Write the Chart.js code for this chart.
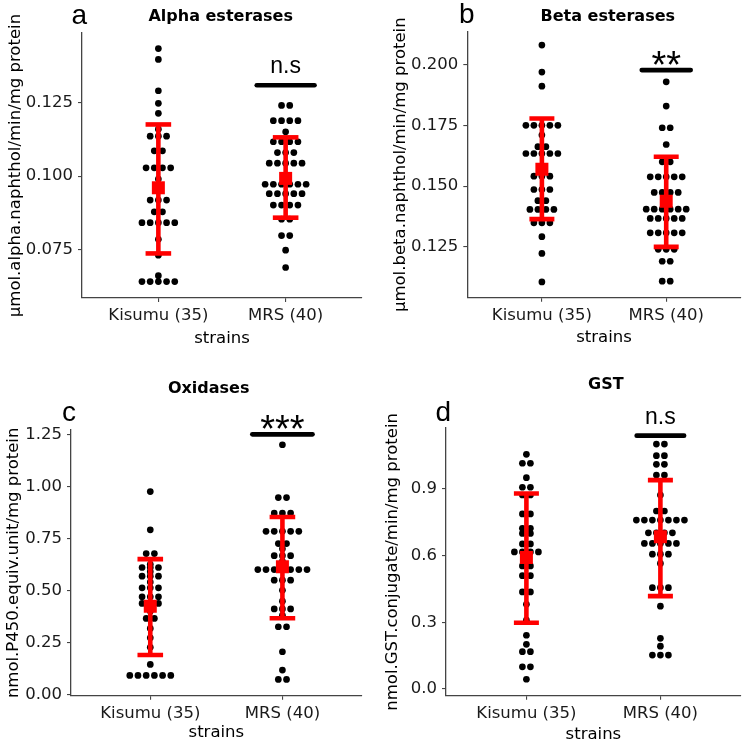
<!DOCTYPE html>
<html>
<head>
<meta charset="utf-8">
<script src="https://cdn.jsdelivr.net/npm/chart.js@4.4.1/dist/chart.umd.min.js"></script>
<style>
  html, body { margin: 0; padding: 0; background: #fff; }
  #wrap { position: relative; width: 750px; height: 746px; }
  #wrap canvas { position: absolute; }
</style>
</head>
<body>
<div id="wrap">
  <canvas id="panelA" width="375" height="373" style="left:0;top:0"></canvas>
  <canvas id="panelB" width="375" height="373" style="left:375px;top:0"></canvas>
  <canvas id="panelC" width="375" height="373" style="left:0;top:373px"></canvas>
  <canvas id="panelD" width="375" height="373" style="left:375px;top:373px"></canvas>
</div>
<script>
/* ── data ───────────────────────────────────────────────── */
const strains = ['Kisumu (35)', 'MRS (40)'];

// a - Alpha esterases (one level per dot row, count = dots in that row)
const alphaKisumuLevels = [0.1435, 0.1398, 0.1291, 0.1248, 0.1214, 0.1160, 0.1136, 0.1086, 0.1028, 0.0990, 0.0960, 0.0918, 0.0878, 0.0841, 0.0784, 0.0730, 0.0660, 0.0640];
const alphaKisumuCounts = [1, 1, 1, 1, 1, 1, 3, 2, 4, 1, 1, 3, 2, 5, 1, 1, 1, 5];
const alphaMrsLevels = [0.1241, 0.1189, 0.1151, 0.1117, 0.1080, 0.1044, 0.0972, 0.0940, 0.0901, 0.0853, 0.0797, 0.0747, 0.0688];
const alphaMrsCounts = [2, 4, 1, 4, 3, 5, 6, 5, 4, 2, 2, 1, 1];
const alphaMean = [0.0960, 0.0992];
const alphaLow = [0.0736, 0.0858];
const alphaHigh = [0.1176, 0.1132];
const alphaTicks = [0.075, 0.100, 0.125];
const alphaTickLabels = ['0.075', '0.100', '0.125'];

// b - Beta esterases
const betaKisumuLevels = [0.2080, 0.1969, 0.1911, 0.1750, 0.1710, 0.1662, 0.1634, 0.1566, 0.1541, 0.1486, 0.1440, 0.1404, 0.1349, 0.1292, 0.1223, 0.1106];
const betaKisumuCounts = [1, 1, 1, 5, 1, 2, 5, 1, 3, 3, 2, 4, 3, 1, 1, 1];
const betaMrsLevels = [0.1929, 0.1829, 0.1740, 0.1671, 0.1600, 0.1538, 0.1474, 0.1440, 0.1405, 0.1367, 0.1308, 0.1240, 0.1191, 0.1109];
const betaMrsCounts = [1, 1, 2, 1, 2, 5, 4, 1, 6, 5, 5, 3, 2, 2];
const betaMean = [0.1569, 0.1438];
const betaLow = [0.1364, 0.1250];
const betaHigh = [0.1778, 0.1621];
const betaTicks = [0.125, 0.150, 0.175, 0.200];
const betaTickLabels = ['0.125', '0.150', '0.175', '0.200'];

// c - Oxidases
const oxiKisumuLevels = [0.975, 0.791, 0.677, 0.625, 0.610, 0.590, 0.568, 0.540, 0.512, 0.469, 0.437, 0.400, 0.365, 0.317, 0.272, 0.226, 0.144, 0.091];
const oxiKisumuCounts = [1, 1, 2, 1, 3, 1, 3, 1, 3, 3, 3, 1, 2, 1, 1, 1, 1, 6];
const oxiMrsLevels = [1.200, 0.946, 0.872, 0.784, 0.725, 0.700, 0.667, 0.640, 0.600, 0.549, 0.500, 0.448, 0.411, 0.380, 0.325, 0.205, 0.117, 0.072];
const oxiMrsCounts = [1, 2, 3, 5, 2, 1, 3, 1, 7, 3, 1, 1, 3, 1, 2, 1, 1, 2];
const oxiMean = [0.424, 0.613];
const oxiLow = [0.189, 0.366];
const oxiHigh = [0.650, 0.853];
const oxiTicks = [0, 0.25, 0.5, 0.75, 1, 1.25];
const oxiTickLabels = ['0.00', '0.25', '0.50', '0.75', '1.00', '1.25'];

// d - GST
const gstKisumuLevels = [1.056, 1.016, 0.951, 0.908, 0.873, 0.788, 0.723, 0.700, 0.653, 0.617, 0.554, 0.510, 0.437, 0.381, 0.310, 0.242, 0.201, 0.168, 0.100, 0.044];
const gstKisumuCounts = [1, 2, 1, 2, 2, 2, 2, 2, 2, 4, 2, 2, 2, 1, 1, 1, 1, 2, 2, 1];
const gstMrsLevels = [1.102, 1.050, 1.011, 0.963, 0.873, 0.801, 0.760, 0.703, 0.655, 0.607, 0.565, 0.456, 0.373, 0.228, 0.193, 0.153];
const gstMrsCounts = [2, 2, 2, 2, 1, 2, 7, 4, 5, 3, 1, 3, 1, 1, 1, 3];
const gstMean = [0.592, 0.685];
const gstLow = [0.298, 0.418];
const gstHigh = [0.880, 0.940];
const gstTicks = [0, 0.3, 0.6, 0.9];
const gstTickLabels = ['0.0', '0.3', '0.6', '0.9'];

// significance marks over MRS
const sigLevels = [0.131, 0.1977, 1.25, 1.14];
const sigLabels = ['n.s', '**', '***', 'n.s'];

/* ── drawing ────────────────────────────────────────────── */
const FONT = "'DejaVu Sans', sans-serif";
const ARIAL = "'Liberation Sans', Arial, sans-serif";
const RED = '#ff0000';
const AXIS = '#444';

// stacked dot rows, centred on the category (like geom_dotplot stackdir = "center")
function dotPoints(levels, counts, center, step) {
  const pts = [];
  levels.forEach((v, i) => {
    const n = counts[i];
    for (let k = 0; k < n; k++) pts.push({ x: center + (k - (n - 1) / 2) * step, y: v });
  });
  return pts;
}

const panelText = {
  id: 'panelText',
  afterDraw(chart, args, o) {
    const ctx = chart.ctx;
    ctx.save();
    ctx.fillStyle = '#000';
    ctx.textBaseline = 'alphabetic';
    // tag letter
    ctx.font = '28px ' + ARIAL;
    ctx.textAlign = 'left';
    ctx.fillText(o.tag, o.tagX, o.tagY);
    // panel title
    ctx.font = 'bold 16px ' + FONT;
    ctx.textAlign = 'center';
    ctx.fillText(o.title, o.titleX, o.titleY);
    // significance label
    const sx = chart.scales.x.getPixelForValue(2);
    const sy = chart.scales.y.getPixelForValue(o.sigY);
    const stars = o.sig.indexOf('*') >= 0;
    ctx.font = (stars ? '38px ' : '23px ') + ARIAL;
    ctx.fillText(o.sig, sx, stars ? sy + 7.7 : sy - 11.8);
    ctx.restore();
  }
};

function makePanel(p) {
  const unitPx = (p.area.right - p.area.left) / 2.2;
  const step = 8.2 / unitPx;
  const capHalf = 12.8 / unitPx;
  const W = 375, H = 373;

  const datasets = [];
  const line = (pts, width, order) => ({
    data: pts, showLine: true, borderColor: RED, borderWidth: width,
    pointRadius: 0, borderCapStyle: 'butt', order: order
  });
  [0, 1].forEach(i => {
    const c = i + 1;
    datasets.push({
      data: [{ x: c, y: p.mean[i] }], pointStyle: 'rect', pointRadius: 9.2,
      backgroundColor: RED, borderWidth: 0, order: -1
    });
    datasets.push(line([{ x: c, y: p.low[i] }, { x: c, y: p.high[i] }], 4.6, 0));
    datasets.push(line([{ x: c - capHalf, y: p.high[i] }, { x: c + capHalf, y: p.high[i] }], 4.6, 0));
    datasets.push(line([{ x: c - capHalf, y: p.low[i] }, { x: c + capHalf, y: p.low[i] }], 4.6, 0));
  });
  datasets.push({
    data: [{ x: 2 - p.sigHalf, y: p.sigY }, { x: 2 + p.sigHalf, y: p.sigY }],
    showLine: true, borderColor: '#000', borderWidth: 4.6, borderCapStyle: 'round',
    pointRadius: 0, order: 0
  });
  datasets.push({
    data: dotPoints(p.kisumuLevels, p.kisumuCounts, 1, step)
      .concat(dotPoints(p.mrsLevels, p.mrsCounts, 2, step)),
    pointRadius: 3.35, backgroundColor: '#000', borderWidth: 0, order: 1
  });

  return new Chart(document.getElementById(p.id), {
    type: 'scatter',
    data: { datasets: datasets },
    options: {
      responsive: false,
      animation: false,
      events: [],
      layout: { padding: { left: 0, right: W - p.area.right, top: p.area.top, bottom: 0 } },
      plugins: {
        legend: { display: false },
        tooltip: { enabled: false },
        panelText: {
          tag: p.tag, tagX: p.tagX, tagY: p.tagY,
          title: p.title, titleX: p.titleX, titleY: p.titleY,
          sig: p.sig, sigY: p.sigY
        }
      },
      scales: {
        x: {
          type: 'linear', min: 0.4, max: 2.6, bounds: 'data',
          afterBuildTicks: s => { s.ticks = [{ value: 1 }, { value: 2 }]; },
          afterFit: s => { s.height = H - p.area.bottom; },
          border: { color: AXIS, width: 1.3 },
          grid: { drawOnChartArea: false, drawTicks: true, tickLength: 4, color: AXIS, lineWidth: 1.1 },
          ticks: {
            padding: 4, color: '#1a1a1a', font: { family: FONT, size: 16.5 },
            maxRotation: 0, callback: v => strains[Math.round(v) - 1]
          },
          title: {
            display: true, text: 'strains', color: '#000',
            font: { family: FONT, size: 16.5 }, padding: { top: 0, bottom: p.xTitlePad }
          }
        },
        y: {
          type: 'linear', min: p.yMin, max: p.yMax, bounds: 'data',
          afterBuildTicks: s => { s.ticks = p.ticks.map(v => ({ value: v })); },
          afterFit: s => { s.width = p.area.left; },
          border: { color: AXIS, width: 1.3 },
          grid: { drawOnChartArea: false, drawTicks: true, tickLength: 4, color: AXIS, lineWidth: 1.1 },
          ticks: {
            padding: 5, color: '#1a1a1a', font: { family: FONT, size: 16.5 },
            callback: (v, i) => p.tickLabels[i]
          },
          title: {
            display: true, text: p.yTitle, color: '#000',
            font: { family: FONT, size: 16.5 }, padding: { top: p.yTitlePad, bottom: 0 }
          }
        }
      }
    },
    plugins: [panelText]
  });
}

makePanel({
  id: 'panelA', area: { left: 82, right: 362, top: 33, bottom: 298 },
  yMin: 0.0584, yMax: 0.1488, ticks: alphaTicks, tickLabels: alphaTickLabels,
  kisumuLevels: alphaKisumuLevels, kisumuCounts: alphaKisumuCounts,
  mrsLevels: alphaMrsLevels, mrsCounts: alphaMrsCounts,
  mean: alphaMean, low: alphaLow, high: alphaHigh,
  yTitle: 'μmol.alpha.naphthol/min/mg protein', yTitlePad: 5.8, xTitlePad: 24.8,
  tag: 'a', tagX: 71.5, tagY: 24, title: 'Alpha esterases', titleX: 220.7, titleY: 21,
  sig: sigLabels[0], sigY: sigLevels[0], sigHalf: 0.227
});

makePanel({
  id: 'panelB', area: { left: 92.3, right: 372.7, top: 31.7, bottom: 297.7 },
  yMin: 0.1041, yMax: 0.2135, ticks: betaTicks, tickLabels: betaTickLabels,
  kisumuLevels: betaKisumuLevels, kisumuCounts: betaKisumuCounts,
  mrsLevels: betaMrsLevels, mrsCounts: betaMrsCounts,
  mean: betaMean, low: betaLow, high: betaHigh,
  yTitle: 'μmol.beta.naphthol/min/mg protein', yTitlePad: 16.1, xTitlePad: 25,
  tag: 'b', tagX: 84, tagY: 23.3, title: 'Beta esterases', titleX: 232.8, titleY: 20.7,
  sig: sigLabels[1], sigY: sigLevels[1], sigHalf: 0.197
});

makePanel({
  id: 'panelC', area: { left: 71, right: 361.7, top: 57, bottom: 322.7 },
  yMin: -0.0064, yMax: 1.271, ticks: oxiTicks, tickLabels: oxiTickLabels,
  kisumuLevels: oxiKisumuLevels, kisumuCounts: oxiKisumuCounts,
  mrsLevels: oxiMrsLevels, mrsCounts: oxiMrsCounts,
  mean: oxiMean, low: oxiLow, high: oxiHigh,
  yTitle: 'nmol.P450.equiv.unit/mg protein', yTitlePad: 4.1, xTitlePad: 3.1,
  tag: 'c', tagX: 62, tagY: 48.3, title: 'Oxidases', titleX: 208.7, titleY: 20,
  sig: sigLabels[2], sigY: sigLevels[2], sigHalf: 0.228
});

makePanel({
  id: 'panelD', area: { left: 71, right: 372.7, top: 55, bottom: 322.7 },
  yMin: -0.030, yMax: 1.1745, ticks: gstTicks, tickLabels: gstTickLabels,
  kisumuLevels: gstKisumuLevels, kisumuCounts: gstKisumuCounts,
  mrsLevels: gstMrsLevels, mrsCounts: gstMrsCounts,
  mean: gstMean, low: gstLow, high: gstHigh,
  yTitle: 'nmol.GST.conjugate/min/mg protein', yTitlePad: 8.1, xTitlePad: 1.4,
  tag: 'd', tagX: 60.5, tagY: 47.7, title: 'GST', titleX: 230.8, titleY: 15.7,
  sig: sigLabels[3], sigY: sigLevels[3], sigHalf: 0.177
});
</script>
</body>
</html>
